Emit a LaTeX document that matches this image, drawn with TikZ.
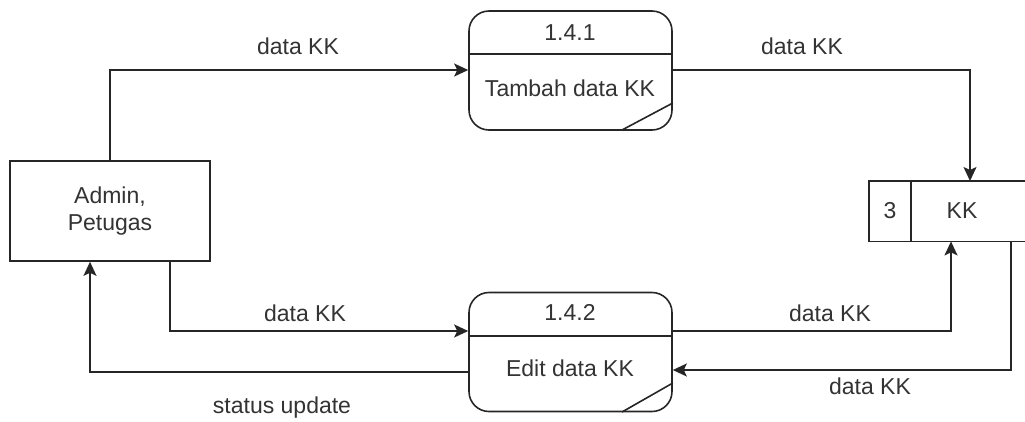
\documentclass[tikz,border=0pt]{standalone}
\usepackage{fontspec}
\setmainfont{Liberation Sans}
\usetikzlibrary{arrows.meta}
\begin{document}
\begin{tikzpicture}[x=1pt,y=-1pt,
  every node/.style={font=\fontsize{23}{27}\selectfont, text=black!80},
  ln/.style={line width=1.6pt, draw=black!85},
  flow/.style={ln, -{Stealth[length=14pt,width=13pt,inset=3pt]}},
  entity/.style={ln, draw, minimum width=200pt, minimum height=100pt, align=center},
  proc/.style={ln, draw, rounded corners=20pt, minimum width=203pt, minimum height=119pt},
  lbl/.style={inner sep=0pt}]
\useasboundingbox (0,0) rectangle (1025,421);
% entity
\node[entity] (admin) at (110,211) {Admin,\\Petugas};
% processes
\node[proc] (p1) at (570.5,70.5) {};
\node[proc] (p2) at (570.5,352) {};
\draw[ln] (p1.west |- 0,54) -- (p1.east |- 0,54);
\draw[ln] (p2.west |- 0,336) -- (p2.east |- 0,336);
\draw[ln] (622,130) -- (p1.east |- 0,103);
\draw[ln] (622,412) -- (p2.east |- 0,383);
\node[lbl] (p1id) at (570,33) {1.4.1};
\node[lbl] (p1t) at (570,88) {Tambah data KK};
\node[lbl] (p2id) at (570,312) {1.4.2};
\node[lbl] (p2t) at (570,368) {Edit data KK};
% data store
\node[inner sep=0pt, minimum width=156pt, minimum height=60pt, anchor=north west] (kk) at (869,181) {};
\draw[ln] (kk.north east) -- (kk.north west) -- (kk.south west) -- (kk.south east);
\draw[ln] (911,181) -- (911,241);
\node[lbl] (kkid) at (890,211) {3};
\node[lbl] (kkt) at (962,211) {KK};
% flows
\coordinate (a1) at (110,70);
\draw[flow] (admin.north -| a1) -- (a1) -- (p1.west |- a1);
\coordinate (b1) at (970,70);
\draw[flow] (p1.east |- b1) -- (b1) -- (kk.north -| b1);
\coordinate (c1) at (170,331);
\draw[flow] (admin.south -| c1) -- (c1) -- (p2.west |- c1);
\coordinate (d1) at (951,331);
\draw[flow] (p2.east |- d1) -- (d1) -- (kk.south -| d1);
\coordinate (e1) at (1011,370);
\draw[flow] (kk.south -| e1) -- (e1) -- (p2.east |- e1);
\coordinate (f1) at (90,372);
\draw[flow] (p2.west |- f1) -- (f1) -- (admin.south -| f1);
% labels
\node[lbl] at (298,46) {data KK};
\node[lbl] at (802,46) {data KK};
\node[lbl] at (305,313) {data KK};
\node[lbl] at (830,313) {data KK};
\node[lbl] at (870,386) {data KK};
\node[lbl] at (282,408) {status update};
\end{tikzpicture}
\end{document}
